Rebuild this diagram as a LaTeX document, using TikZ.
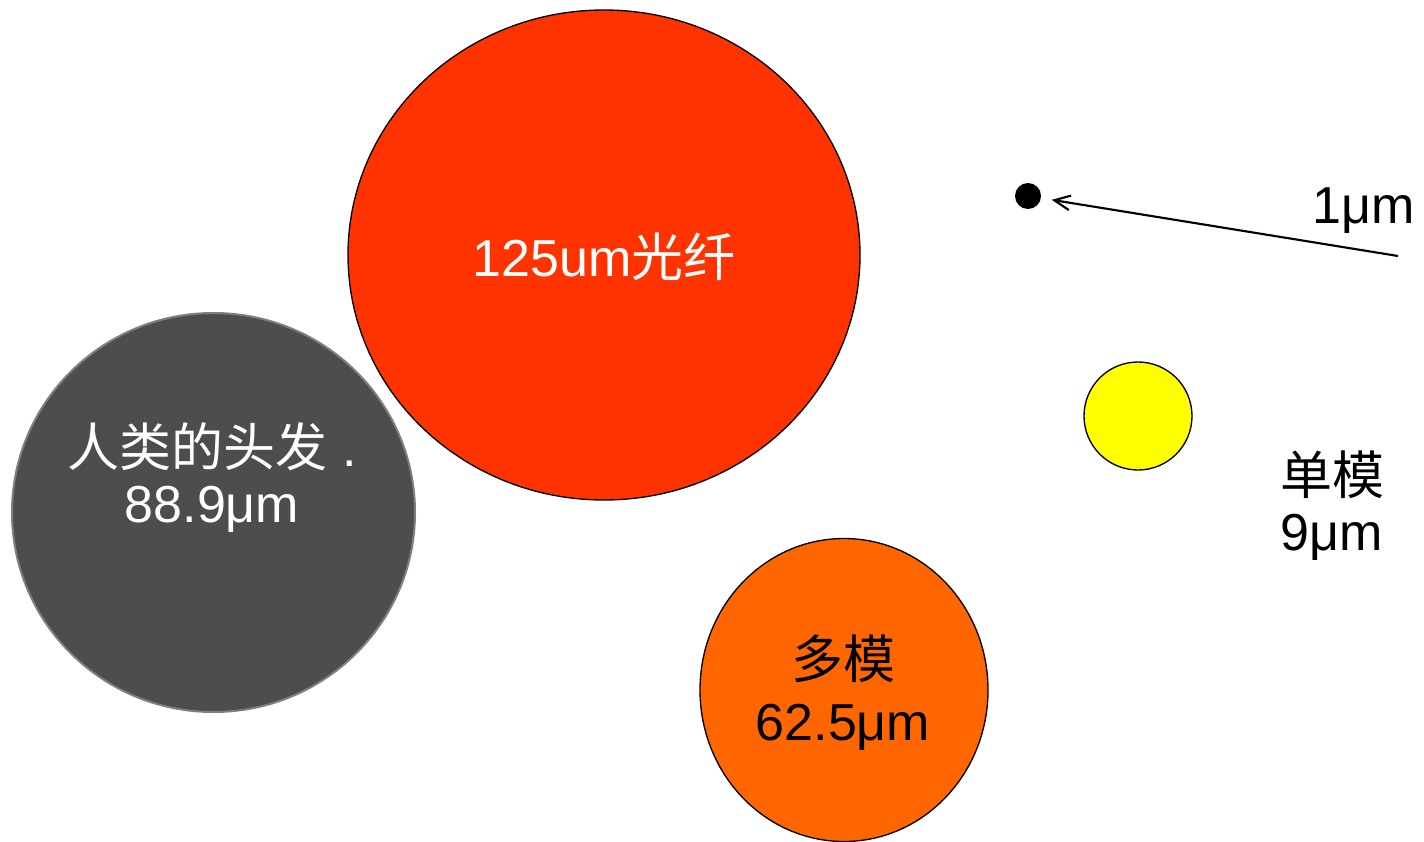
\documentclass[tikz,border=0pt]{standalone}
\usepackage{fontspec}
\setmainfont{Liberation Sans}
\newfontfamily\cjk{Noto Sans CJK SC}
\usepackage{tikz}
\usetikzlibrary{shapes.geometric}
\usetikzlibrary{arrows.meta}

\definecolor{fiberred}{HTML}{FF3300}
\definecolor{hairgray}{HTML}{4D4D4D}
\definecolor{hairedge}{HTML}{7F7F7F}
\definecolor{multiorange}{HTML}{FF6600}
\definecolor{singleyellow}{HTML}{FFFF00}

\begin{document}
\begin{tikzpicture}[x=0.75pt,y=-0.75pt]
\tikzstyle{disc}=[draw,ellipse,outer sep=0pt,inner sep=0pt,line width=1pt]
\tikzstyle{size}=[font=\fontsize{39}{47}\selectfont,inner sep=0pt]

\useasboundingbox (0,0) rectangle (1424,842);

\node (fiber) [disc,fill=fiberred,minimum width=512*0.75pt,minimum height=490*0.75pt] at (604,255) {};
\node (hair) [disc,fill=hairgray,draw=hairedge,line width=1.5pt,minimum width=403*0.75pt,minimum height=399*0.75pt] at (213.5,512.5) {};
\node (multi) [disc,fill=multiorange,minimum width=288*0.75pt,minimum height=303*0.75pt] at (844,690) {};
\node (single) [disc,fill=singleyellow,minimum width=108*0.75pt,minimum height=108*0.75pt] at (1138,416) {};
\node (micron) [circle,fill=black,inner sep=0pt,minimum size=26*0.75pt] at (1028,196) {};

\node (fiber_txt) [size,text=white,anchor=base] at (604,276) {125um{\cjk 光纤}};
\node (hair_txt1) [size,text=white,anchor=base] at (212,466) {{\cjk 人类的头发} .};
\node (hair_txt2) [size,text=white,anchor=base] at (212,522) {88.9μm};
\node (multi_txt1) [size,anchor=base] at (843,678) {\cjk 多模};
\node (multi_txt2) [size,anchor=base] at (843,740) {62.5μm};
\node (single_txt1) [size,anchor=base] at (1332,494) {\cjk 单模};
\node (single_txt2) [size,anchor=base] at (1332,550) {9μm};
\node (micron_txt) [size,anchor=base east] at (1415,223) {1μm};

\coordinate (tail) at (1398,256);
\draw [-{Straight Barb[length=12pt,width=11pt]},line width=1.6pt,shorten >=18pt] (tail) -- (micron.center);

\end{tikzpicture}
\end{document}
